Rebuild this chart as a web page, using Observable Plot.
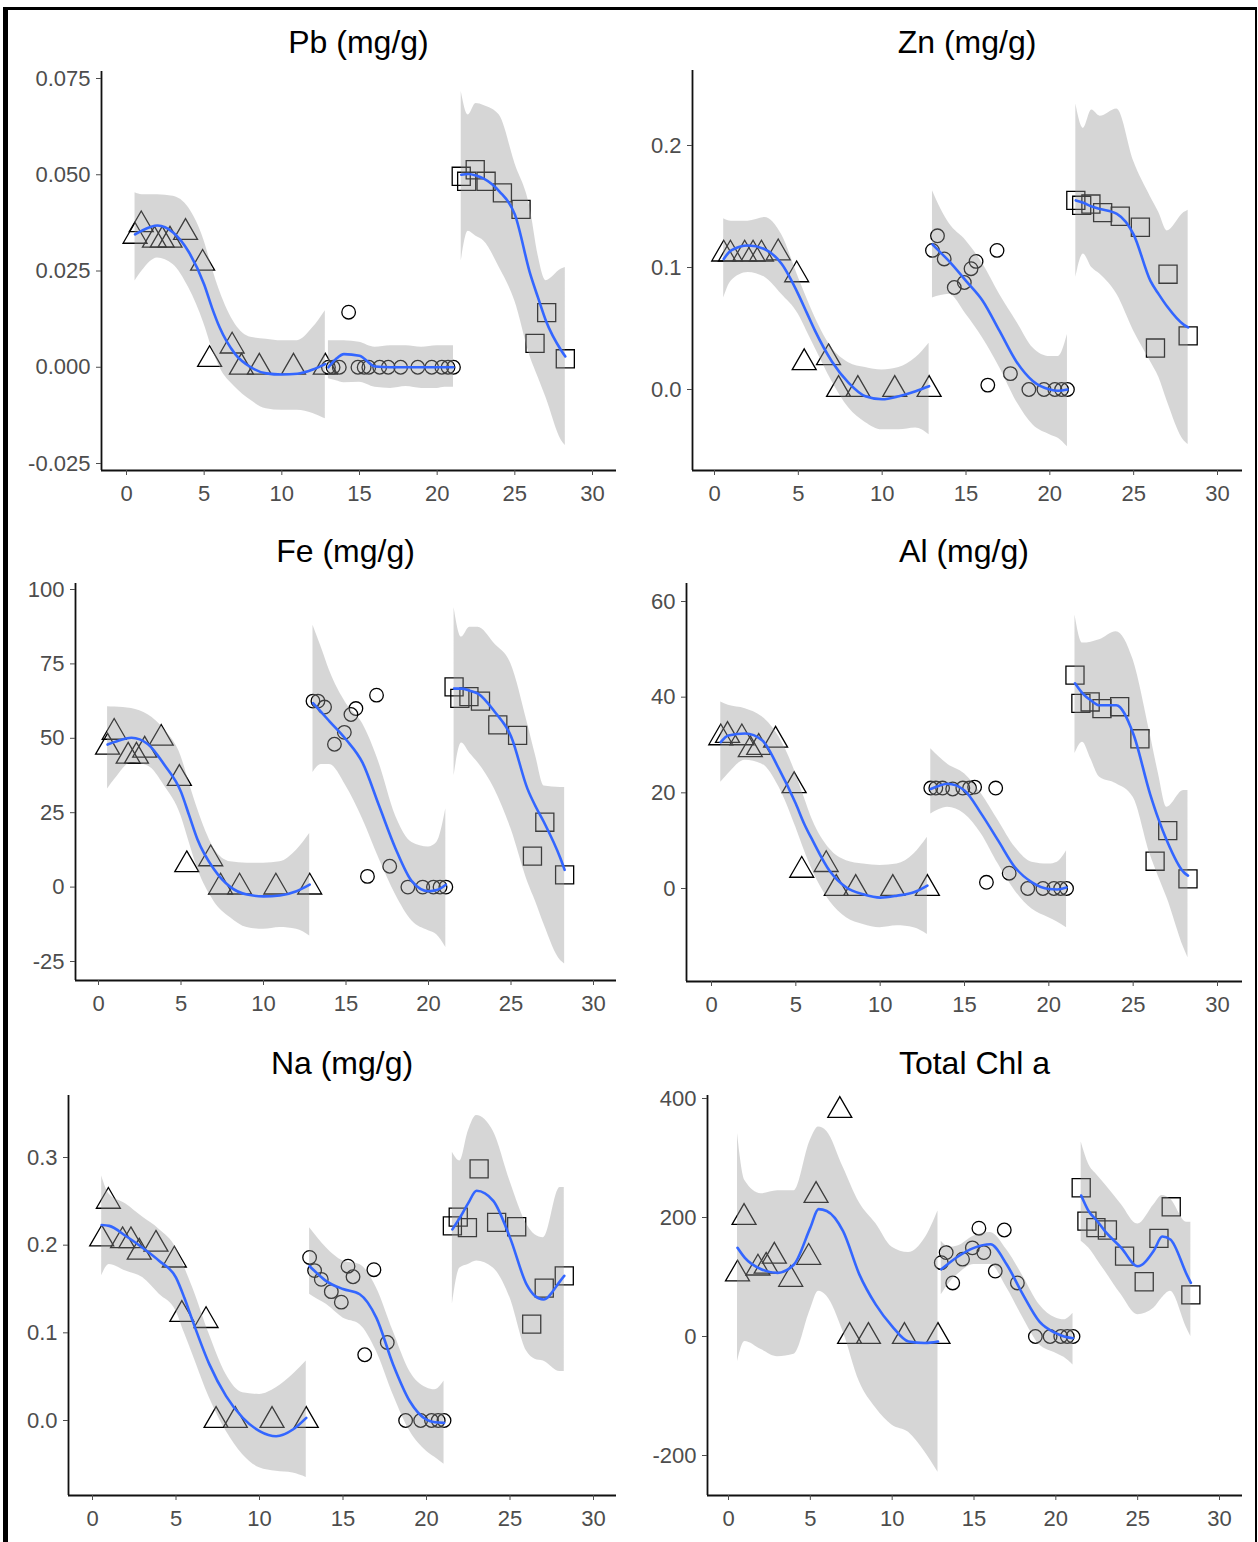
<!DOCTYPE html>
<html><head><meta charset="utf-8">
<script src="https://cdn.jsdelivr.net/npm/d3@7"></script>
<script src="https://cdn.jsdelivr.net/npm/@observablehq/plot@0.6"></script>
<style>
body{margin:0;background:#fff;}
#page{position:relative;width:1258px;height:1542px;overflow:hidden;background:#fff;font-family:"Liberation Sans",Arial,sans-serif;}
#border{position:absolute;left:3px;top:7px;width:1247px;height:1600px;border-left:5px solid #000;border-top:3px solid #000;border-right:2px solid #000;}
.ttl{position:absolute;font-size:32px;color:#000;white-space:nowrap;transform:translate(-50%,-50%);line-height:1;}
.pl{position:absolute;}
.pl svg{background:transparent !important;overflow:visible;}
</style></head><body><div id="page"><div id="border"></div></div>
<script>
// sample positions (x) shared by all panels
const triX  = [0.55, 0.95, 1.8, 2.3, 2.8, 3.8, 4.9, 5.35, 6.8, 7.4, 8.55, 10.75, 12.8];
const circX = [13.0, 13.3, 13.7, 14.3, 14.9, 15.3, 15.6, 16.3, 16.85, 17.65, 18.75, 19.65, 20.3, 20.7, 21.05];
const sqX   = [21.55, 21.9, 22.45, 23.15, 24.2, 25.4, 26.3, 27.05, 28.25];
// smoother grid positions
const triGrid  = [0.55, 1, 2, 3, 4, 5, 5.5, 6, 7, 8, 9, 10, 11, 12, 12.8];
const circGrid = [13.0, 13.5, 14, 15, 16, 17, 18, 19, 20, 20.5, 21.05];
const sqGrid   = [21.55, 22, 22.5, 23, 24, 25, 26, 26.5, 27, 28, 28.25];

// Pb
const pbPts = [0.034,0.037,0.033,0.033,0.033,0.035,0.027,0.002,0.0055,0,0,0,0,
  0,0,0,0.0143,0,0,0,0,0,0,0,0,0,0,0,
  0.0496,0.0483,0.0513,0.0483,0.0453,0.041,0.0062,0.0142,0.0022];
const pbFit = [0.0345,0.0355,0.0368,0.035,0.030,0.0215,0.0155,0.0103,0.0034,0.0,-0.0016,-0.0019,-0.0017,-0.0006,0.0008,
  0.0,0.0022,0.0034,0.003,0.0002,0,0,0,0,0,0,
  0.050,0.0502,0.0498,0.049,0.0457,0.0397,0.0241,0.018,0.0121,0.0043,0.0028];
const pbLo = [0.0224,0.025,0.0284,0.0267,0.0207,0.0112,0.005,0.0,-0.0052,-0.0086,-0.0108,-0.0112,-0.0112,-0.012,-0.0134,
  -0.003,-0.0035,-0.004,-0.0039,-0.0052,-0.0055,-0.005,-0.0055,-0.0055,-0.0052,-0.0052,
  0.0276,0.0353,0.034,0.0328,0.0259,0.0172,0.0026,-0.0026,-0.0078,-0.019,-0.0203];
const pbHi = [0.0453,0.0448,0.0448,0.0444,0.0414,0.0328,0.026,0.0198,0.0112,0.0078,0.0073,0.0069,0.0069,0.0103,0.0147,
  0.0069,0.0069,0.0069,0.0065,0.0052,0.0056,0.0056,0.0052,0.0056,0.0056,0.0056,
  0.0716,0.0655,0.0685,0.068,0.0655,0.053,0.041,0.029,0.0225,0.0255,0.0259];

// Zn
const znPts = [0.111,0.111,0.111,0.111,0.111,0.112,0.094,0.022,0.026,0,0,0,0,
  0.114,0.126,0.107,0.0836,0.0877,0.099,0.105,0.0036,0.114,0.013,0,0,0,0,0,
  0.155,0.151,0.152,0.145,0.142,0.133,0.034,0.0945,0.044];
const znFit = [0.107,0.114,0.118,0.115,0.103,0.078,0.063,0.048,0.023,0.0055,-0.0055,-0.008,-0.0055,-0.0014,0.0027,
  0.119,0.112,0.105,0.089,0.0726,0.048,0.023,0.0068,0.0,-0.001,0.0,
  0.155,0.153,0.150,0.148,0.144,0.127,0.089,0.078,0.068,0.053,0.051];
const znLo = [0.075,0.089,0.096,0.092,0.078,0.0616,0.048,0.034,0.0068,-0.015,-0.027,-0.033,-0.033,-0.0315,-0.037,
  0.075,0.077,0.078,0.0616,0.042,0.018,-0.0096,-0.029,-0.037,-0.04,-0.047,
  0.092,0.111,0.10,0.0945,0.078,0.048,0.023,0.01,-0.0096,-0.042,-0.045];
const znHi = [0.14,0.138,0.138,0.141,0.127,0.092,0.075,0.059,0.034,0.022,0.018,0.016,0.018,0.026,0.038,
  0.163,0.148,0.136,0.122,0.103,0.078,0.056,0.034,0.027,0.027,0.045,
  0.234,0.214,0.229,0.224,0.23,0.187,0.158,0.145,0.13,0.145,0.147];

// Fe
const fePts = [47,52,44,44,46,50,36.5,7.5,9.5,0,0,0,0,
  62.5,62.5,60.5,48,52,58,60,3.6,64.5,7,0,0,0,0,0,
  67.3,63.4,64,62.5,54.5,51,10.4,21.8,4.1];
const feFit = [47.9,48.8,50.2,48,41,32,24,16,6,0,-2.5,-3.1,-2.8,-1.4,0.8,
  61.8,58.8,55.7,49.6,41.8,27.4,13,1.9,-1.4,-1,0.8,
  66.7,66.7,66,65,59,50.7,33,27,21.8,9.6,5.8];
const feLo = [33,36.3,41.8,40.7,34,24,15,6.3,-4.8,-10.3,-13.6,-14.2,-13.6,-14.2,-16.4,
  38.5,41.2,41.2,34,23,9.6,-2.5,-11.4,-14.7,-16,-20.3,
  37.4,48.4,45,41.8,33,19.6,1.9,-5,-12.5,-24.7,-25.8];
const feHi = [60.6,60.5,60,57.9,52.9,44,35,26.3,13,8.5,8,8,8.5,12.4,18,
  88,80.6,72.8,61.8,55,41.8,24,15,13.5,15,26.3,
  93.9,84,87.3,87.3,81.8,75,55,44,34,33.5,33.5];

// Al
const alPts = [31.5,32,31.5,29,29.5,31,21.5,3.8,5,0,0,0,0,
  21,21,21,20.8,21,21,21.2,1.3,21,3.2,0,0,0,0,0,
  44.6,38.7,39,37.6,38,31.3,5.7,12.1,2.0];
const alFit = [30.6,32,32.4,31,25,17.7,13.5,10,3.7,0.2,-1.2,-1.9,-1.5,-0.8,0.6,
  20.8,21.5,21.9,20.5,15.6,10,4.4,1.3,-0.1,-0.2,0.2,
  42.9,40.8,39.3,38.3,38.3,32.4,19.8,14.5,10,3.4,2.7];
const alLo = [22.2,24,26.8,26,21.2,12.8,8,3.7,-2.6,-6.1,-7.5,-8.2,-7.8,-8.2,-9.6,
  15.6,16.5,17,15.6,11.4,5.1,-0.5,-4.3,-6.1,-7,-8.2,
  28.2,30.6,27,23.3,21.9,19.1,7.2,2.5,-1.9,-12.4,-14.5];
const alHi = [39,38.3,37.6,35.9,31.7,24,19,14.2,8.3,5.8,5.1,4.8,5.1,7.2,10.7,
  29.2,27.5,26,24,19.8,14.2,8.6,5.5,5.1,5.5,7.9,
  57.2,51.3,51.5,52,53.7,47.8,32.4,24,17,20.5,20.5];

// Na
const naPts = [0.207,0.25,0.205,0.205,0.192,0.201,0.183,0.121,0.114,0,0,0,0,
  0.186,0.171,0.161,0.147,0.135,0.176,0.164,0.075,0.172,0.089,0,0,0,0,0,
  0.222,0.232,0.22,0.287,0.226,0.221,0.110,0.151,0.165];
const naFit = [0.223,0.222,0.2105,0.197,0.182,0.163,0.14,0.1134,0.064,0.0278,0.003,-0.012,-0.018,-0.0103,0.003,
  0.176,0.167,0.159,0.15,0.144,0.117,0.064,0.022,0.001,-0.002,-0.0027,
  0.218,0.2314,0.248,0.262,0.2505,0.2086,0.155,0.142,0.138,0.159,0.165];
const naLo = [0.165,0.178,0.1705,0.163,0.144,0.125,0.10,0.0754,0.026,-0.012,-0.039,-0.054,-0.058,-0.06,-0.065,
  0.144,0.138,0.1325,0.117,0.1096,0.079,0.0297,-0.012,-0.035,-0.042,-0.05,
  0.1325,0.174,0.178,0.182,0.174,0.14,0.079,0.07,0.068,0.056,0.056];
const naHi = [0.279,0.258,0.247,0.232,0.218,0.197,0.175,0.1515,0.098,0.0525,0.0316,0.0297,0.0373,0.0525,0.0678,
  0.22,0.208,0.197,0.182,0.178,0.1515,0.102,0.056,0.0373,0.035,0.045,
  0.306,0.296,0.33,0.348,0.33,0.273,0.224,0.212,0.2086,0.2657,0.2657];

// Total Chl a
const chlPts = [105,200,115,118,135,96,133,237,380,0,0,0,0,
  124,141,90,130,149,182,141,110,179,90,0,0,0,0,0,
  250,194,183,179,135,92,165,218,70];
const chlFit = [149,132,113,107,121,183,214,211,177,104,53.5,17,-8.5,-11,-8.5,
  113,124,134,149,155,121,70,25,5.6,0,-2.8,
  237,211,195,177,149,118,145,168,163,104,90];
const chlLo = [-42,-8.5,-22,-34,-30,45,76,68,8.5,-76,-120,-149,-161,-194,-228,
  70,90,104,121,121,82,31,-14,-28,-35,-48,
  160,149,130,110,70,36.6,48,65,76,14,0];
const chlHi = [341,262,240,245,245,330,352,345,285,225,190,150,141,165,211,
  160,150,152,169,175,146,101,53.5,31,28,39,
  327,290,272,256,222,189,222,237,231,192,192];

const titles = ["Pb (mg/g)", "Zn (mg/g)", "Fe (mg/g)", "Al (mg/g)", "Na (mg/g)", "Total Chl a"];
const xTicks = [0, 5, 10, 15, 20, 25, 30];
const yTicks = [[-0.025, 0, 0.025, 0.05, 0.075], [0, 0.1, 0.2], [-25, 0, 25, 50, 75, 100], [0, 20, 40, 60], [0, 0.1, 0.2, 0.3], [-200, 0, 200, 400]];
const yDigits = [3, 1, 0, 0, 1, 0];

// layout (page pixels): frame [left,right,top,bottom], x tick px for 0 and 30, two y (value,px) refs, title center y
const layout = [
  {frame:[101,616,71,470],   xt:[126,592],  yr:[[0.075,78],[-0.025,463]], ty:42},
  {frame:[692,1242,70,470],  xt:[714,1217], yr:[[0.2,145],[0,389]],        ty:42},
  {frame:[75,616,583,980],   xt:[98,593],   yr:[[100,589],[-25,961]],      ty:551},
  {frame:[686,1242,583,981], xt:[711,1217], yr:[[60,601],[0,888]],         ty:551},
  {frame:[68,616,1095,1495], xt:[92,593],   yr:[[0.3,1157],[0,1420]],      ty:1063},
  {frame:[707,1242,1095,1495],xt:[728,1219],yr:[[400,1098],[-200,1455]],   ty:1063}
];
const panels = [
  [pbPts, pbFit, pbLo, pbHi], [znPts, znFit, znLo, znHi], [fePts, feFit, feLo, feHi],
  [alPts, alFit, alLo, alHi], [naPts, naFit, naLo, naHi], [chlPts, chlFit, chlLo, chlHi]
];

const page = document.getElementById("page");
const gridAll = [...triGrid.map(x => [x, "a"]), ...circGrid.map(x => [x, "b"]), ...sqGrid.map(x => [x, "c"])];
const ptX = [...triX, ...circX, ...sqX];
const nT = triX.length, nC = circX.length;

panels.forEach(([pts, fit, lo, hi], i) => {
  const L = layout[i];
  const [fl, fr, ft, fb] = L.frame;
  const ppx = (L.xt[1] - L.xt[0]) / 30;
  const xdom = [(fl - L.xt[0]) / ppx, (fr - L.xt[0]) / ppx];
  const [[v1, p1], [v2, p2]] = L.yr;
  const pv = (p2 - p1) / (v2 - v1);
  const yAt = p => v1 + (p - p1) / pv;
  const ydom = [yAt(fb), yAt(ft)];
  const sx = fl - 100, sy = ft - 12, sw = fr - sx + 14, sh = fb - sy + 46;

  const pointsAll = ptX.map((x, k) => ({x, y: pts[k], k}));
  const tri = pointsAll.slice(0, nT), circ = pointsAll.slice(nT, nT + nC), sq = pointsAll.slice(nT + nC);
  const band = gridAll.map(([x, seg], k) => ({x, seg, fit: fit[k], lo: lo[k], hi: hi[k]}));
  const fmt = d => d.toFixed(yDigits[i]);

  const chart = Plot.plot({
    width: sw, height: sh,
    marginLeft: fl - sx, marginRight: sx + sw - fr, marginTop: ft - sy, marginBottom: sy + sh - fb,
    x: {domain: xdom, label: null},
    y: {domain: ydom, label: null},
    style: {background: "transparent", fontFamily: '"Liberation Sans", Arial, sans-serif', overflow: "visible"},
    marks: [
      Plot.dot(tri, {x: "x", y: "y", symbol: "triangle", r: 8.9, stroke: "#000", fill: "none", strokeWidth: 1.3}),
      Plot.dot(circ, {x: "x", y: "y", symbol: "circle", r: 6.8, stroke: "#000", fill: "none", strokeWidth: 1.3}),
      Plot.dot(sq, {x: "x", y: "y", symbol: "square", r: 10.2, stroke: "#000", fill: "none", strokeWidth: 1.3}),
      Plot.areaY(band, {x: "x", y1: "lo", y2: "hi", z: "seg", fill: "#999999", fillOpacity: 0.4, curve: "monotone-x"}),
      Plot.line(band, {x: "x", y: "fit", z: "seg", stroke: "#3366FF", strokeWidth: 2.6, curve: "monotone-x"}),
      Plot.ruleX([xdom[0]], {stroke: "#111", strokeWidth: 1.8}),
      Plot.ruleY([ydom[0]], {stroke: "#111", strokeWidth: 1.8}),
      Plot.axisX(xTicks, {anchor: "bottom", tickSize: 5, tickPadding: 10, fontSize: 22, color: "#4d4d4d", label: null}),
      Plot.axisY(yTicks[i], {anchor: "left", tickFormat: fmt, tickSize: 5, tickPadding: 6, fontSize: 22, color: "#4d4d4d", label: null})
    ]
  });
  const wrap = document.createElement("div");
  wrap.className = "pl";
  wrap.style.left = sx + "px"; wrap.style.top = sy + "px";
  wrap.appendChild(chart);
  page.appendChild(wrap);

  const t = document.createElement("div");
  t.className = "ttl";
  t.textContent = titles[i];
  t.style.left = ((fl + fr) / 2) + "px";
  t.style.top = L.ty + "px";
  page.appendChild(t);
});
</script></body></html>
